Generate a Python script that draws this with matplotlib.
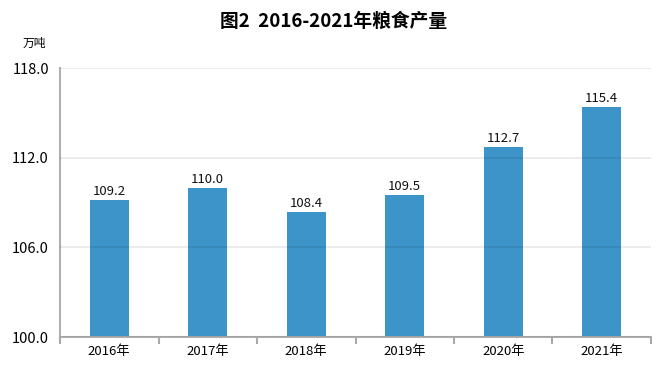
import matplotlib
matplotlib.use('Agg')
import matplotlib.pyplot as plt
import numpy as np

plt.rcParams['font.family'] = ['Noto Sans CJK SC', 'DejaVu Sans']

years = ['2016年', '2017年', '2018年', '2019年', '2020年', '2021年']
output = [109.2, 110.0, 108.4, 109.5, 112.7, 115.4]
yticks = [100.0, 106.0, 112.0, 118.0]

fig = plt.figure(figsize=(6.67, 3.8), dpi=100)
ax = fig.add_axes([0.09, 0.113, 0.886, 0.708])

x = np.arange(len(years))
ax.bar(x, np.array(output) - 100, bottom=100, width=0.4, color='#3d94c8', zorder=2)

for xi, v in zip(x, output):
    ax.text(xi, v + 0.12, f'{v:.1f}', ha='center', va='bottom', fontsize=9.5,
            color='#111111', fontweight='medium')

ax.set_ylim(100, 118)
ax.set_xlim(-0.5, len(years) - 0.5)
ax.set_yticks(yticks)
ax.set_yticklabels([f'{t:.1f}' for t in yticks], fontsize=10.5)
ax.yaxis.grid(True, color='black', linewidth=1.2, alpha=0.09, zorder=3)
ax.set_axisbelow(False)
ax.tick_params(axis='y', length=0, pad=8)

ax.set_xticks(x)
ax.set_xticklabels(years, fontsize=9.5)
ax.set_xticks(np.arange(-0.5, len(years)), minor=True)
ax.tick_params(axis='x', which='major', length=0, pad=6)
ax.tick_params(axis='x', which='minor', length=5, color='#aaaaaa', width=1.5)

for s in ['top', 'right']:
    ax.spines[s].set_visible(False)
for s in ['left', 'bottom']:
    ax.spines[s].set_color('#b0b0b0')
    ax.spines[s].set_linewidth(1.5)

fig.text(0.5, 0.945, '图2  2016-2021年粮食产量', ha='center', va='center',
         fontsize=13.5, fontweight='bold')
fig.text(0.052, 0.886, '万吨', ha='center', va='center', fontsize=8.5)

fig.savefig('out.png', dpi=100)
